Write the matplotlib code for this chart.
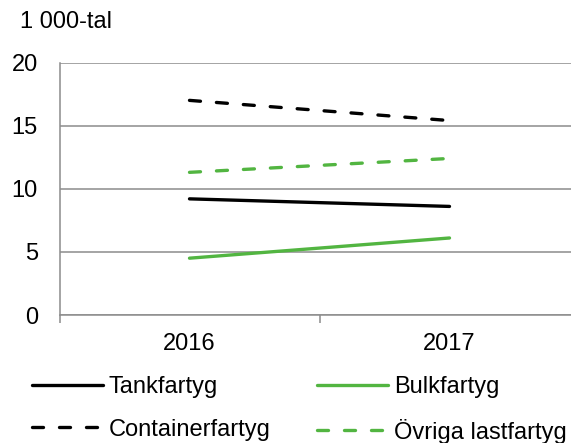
import matplotlib.pyplot as plt

plt.rcParams['font.family'] = ['Liberation Sans', 'DejaVu Sans']

years = ['2016', '2017']
tank = [9.2, 8.6]
bulk = [4.5, 6.1]
container = [17.0, 15.4]
ovriga = [11.3, 12.4]

green = '#52B541'
grid_col = '#8C8C8C'
fs = 17

fig = plt.figure(figsize=(5.71, 4.43), dpi=100)
# plot area runs past the right edge, as in the cropped original
ax = fig.add_axes([59.5 / 571, 128 / 443, 533 / 571, 252.5 / 443])

x = range(len(years))
lw = 2.4
dash = (3.3, 4.8)
l_tank, = ax.plot(x, tank, color='black', lw=lw, solid_capstyle='round')
l_bulk, = ax.plot(x, bulk, color=green, lw=lw, solid_capstyle='round')
l_cont, = ax.plot(x, container, color='black', lw=lw, dashes=dash, dash_capstyle='round')
l_ovr, = ax.plot(x, ovriga, color=green, lw=lw, dashes=dash, dash_capstyle='round')

ax.set_xlim(-0.5, 1.55)
ax.set_ylim(0, 20)
ax.set_yticks([0, 5, 10, 15, 20])
ax.yaxis.grid(True, color=grid_col, lw=1.1)
ax.set_axisbelow(True)

ax.set_xticks([0, 1])
ax.set_xticklabels(years)
ax.set_xticks([-0.5, 0.5], minor=True)
ax.tick_params(axis='x', which='major', length=0, pad=13, labelsize=fs)
ax.tick_params(axis='x', which='minor', length=6, width=1.1, color=grid_col)
ax.tick_params(axis='y', length=0, pad=15.5, labelsize=fs)

for s in ['top', 'right']:
    ax.spines[s].set_visible(False)
for s in ['left', 'bottom']:
    ax.spines[s].set_color(grid_col)
    ax.spines[s].set_linewidth(1.1)

fig.text(20 / 571, 1 - 22 / 443, '1 000-tal', fontsize=fs, va='center', ha='left')

# legend fills column by column, so order gives rows Tank/Bulk, Container/Övriga
fig.legend([l_tank, l_cont, l_bulk, l_ovr],
           ['Tankfartyg', 'Containerfartyg', 'Bulkfartyg', 'Övriga lastfartyg'],
           ncol=2, loc='upper left',
           bbox_to_anchor=(11 / 571, 1 - 355 / 443), frameon=False,
           fontsize=fs, handlelength=3.0, handletextpad=0.25,
           columnspacing=1.95, labelspacing=0.86)

fig.savefig('out.png', dpi=100)
